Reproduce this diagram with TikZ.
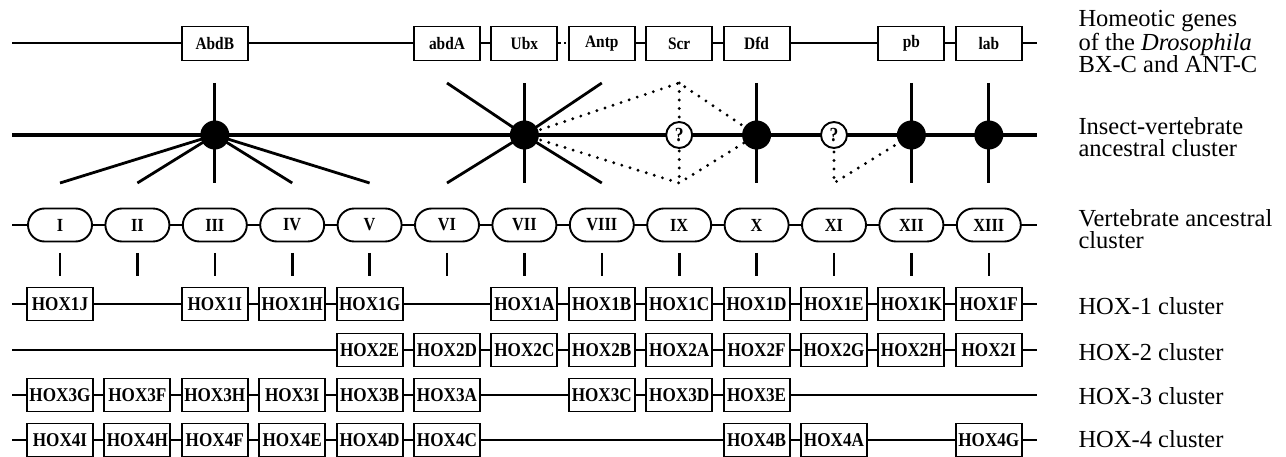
\documentclass[tikz,border=0pt]{standalone}
\usepackage{fontspec}
\setmainfont{Liberation Serif}
\newfontfamily\boxfont{Liberation Serif}[FakeStretch=0.88]
\usetikzlibrary{shapes.misc}
\begin{document}
\begin{tikzpicture}[x=1pt,y=-1pt,
  box/.style={draw, line width=1.9pt, fill=white, minimum width=66pt, minimum height=34pt, inner sep=0pt},
  gene/.style={box, font=\boxfont\bfseries\fontsize{17.5}{17.5}\selectfont},
  hox/.style={box, minimum height=33pt, font=\boxfont\bfseries\fontsize{19.5}{19.5}\selectfont},
  anc/.style={draw, rounded rectangle, line width=1.9pt, fill=white, minimum width=64pt, minimum height=33pt, inner sep=0pt, font=\boxfont\bfseries\fontsize{18.5}{18.5}\selectfont},
  hub/.style={circle, fill=black, minimum size=29pt, inner sep=0pt},
  qm/.style={circle, draw, line width=1.9pt, fill=white, minimum size=26pt, inner sep=0pt, font=\boxfont\bfseries\fontsize{20}{20}\selectfont},
  track/.style={line width=2pt},
  axis/.style={line width=3.8pt},
  ray/.style={line width=2.8pt},
  dots/.style={line width=3.2pt, line cap=round, dash pattern=on 0pt off 8.5pt},
  gap/.style={line width=2pt, dash pattern=on 2.5pt off 3pt},
  tick/.style={line width=2.6pt},
  caption/.style={anchor=base west, align=left, font=\fontsize{24.5}{22.5}\selectfont}
]
\useasboundingbox (0,0) rectangle (1286,457);

% ---------------- Drosophila homeotic genes ----------------
\coordinate (g0) at (12,43.5);
\coordinate (g9) at (1037,43.5);
\node[gene] (AbdB) at (214.8,43.5) {AbdB};
\node[gene] (abdA) at (447,43.5)   {abdA};
\node[gene] (Ubx)  at (524.4,43.5) {Ubx};
\node[gene] (Antp) at (601.8,43.5) {Antp};
\node[gene] (Scr)  at (679.2,43.5) {Scr};
\node[gene] (Dfd)  at (756.6,43.5) {Dfd};
\node[gene] (pb)   at (911.4,43.5) {pb};
\node[gene] (lab)  at (988.8,43.5) {lab};
\draw[track] (g0) -- (AbdB) -- (abdA) -- (Ubx);
\draw[gap] (Ubx) -- (Antp);
\draw[track] (Antp) -- (Scr) -- (Dfd) -- (pb) -- (lab) -- (g9);

% ---------------- insect-vertebrate ancestral cluster ----------------
\coordinate (a0) at (12,135);
\coordinate (a9) at (1037,135);
\foreach \n/\x in {1/60,2/137.4,3/214.8,4/292.2,5/369.6,6/447,7/524.4,8/601.8,9/679.2,10/756.6,11/834,12/911.4,13/988.8}{
  \coordinate (t\n) at (\x,83);
  \coordinate (b\n) at (\x,183);
  \coordinate (m\n) at (\x,135);
}
\draw[axis] (a0) -- (a9);

% AbdB fans out to groups I-V
\draw[ray] (t3) -- (m3);
\foreach \n in {1,...,5}{ \draw[ray] (m3) -- (b\n); }
% Ubx star
\foreach \n in {6,7,8}{ \draw[ray] (m7) -- (t\n); \draw[ray] (m7) -- (b\n); }
% single correspondences
\foreach \n in {10,12,13}{ \draw[ray] (t\n) -- (b\n); }

% uncertain links
\draw[dots] (m7) -- (t9) -- (m10);
\draw[dots] (m7) -- (b9) -- (m10);
\draw[dots] (t9) -- (b9);
\draw[dots] (m11) -- (b11) -- (m12);

\node[hub] (h3)  at (m3)  {};
\node[hub] (h7)  at (m7)  {};
\node[hub] (h10) at (m10) {};
\node[hub] (h12) at (m12) {};
\node[hub] (h13) at (m13) {};
\node[qm]  (q9)  at (m9)  {?};
\node[qm]  (q11) at (m11) {?};

% ---------------- vertebrate ancestral cluster ----------------
\coordinate (v0) at (12,225);
\coordinate (v9) at (1037,225);
\draw[track] (v0) -- (v9);
\foreach \n/\x/\r in {1/60/I,2/137.4/II,3/214.8/III,4/292.2/IV,5/369.6/V,6/447/VI,7/524.4/VII,8/601.8/VIII,9/679.2/IX,10/756.6/X,11/834/XI,12/911.4/XII,13/988.8/XIII}{
  \node[anc] (g\r) at (\x,225) {\r};
  \coordinate (ku\n) at (\x,253);
  \coordinate (kd\n) at (\x,276);
  \draw[tick] (ku\n) -- (kd\n);
}

% ---------------- HOX-1 ----------------
\coordinate (p0) at (12,304);
\coordinate (p9) at (1037,304);
\node[hox] (HOX1J) at (60,304)    {HOX1J};
\node[hox] (HOX1I) at (214.8,304) {HOX1I};
\node[hox] (HOX1H) at (292.2,304) {HOX1H};
\node[hox] (HOX1G) at (369.6,304) {HOX1G};
\node[hox] (HOX1A) at (524.4,304) {HOX1A};
\node[hox] (HOX1B) at (601.8,304) {HOX1B};
\node[hox] (HOX1C) at (679.2,304) {HOX1C};
\node[hox] (HOX1D) at (756.6,304) {HOX1D};
\node[hox] (HOX1E) at (834,304)   {HOX1E};
\node[hox] (HOX1K) at (911.4,304) {HOX1K};
\node[hox] (HOX1F) at (988.8,304) {HOX1F};
\draw[track] (p0) -- (HOX1J) -- (HOX1I) -- (HOX1H) -- (HOX1G) -- (HOX1A) -- (HOX1B)
  -- (HOX1C) -- (HOX1D) -- (HOX1E) -- (HOX1K) -- (HOX1F) -- (p9);

% ---------------- HOX-2 ----------------
\coordinate (q0) at (12,350);
\coordinate (q9) at (1037,350);
\node[hox] (HOX2E) at (369.6,350) {HOX2E};
\node[hox] (HOX2D) at (447,350)   {HOX2D};
\node[hox] (HOX2C) at (524.4,350) {HOX2C};
\node[hox] (HOX2B) at (601.8,350) {HOX2B};
\node[hox] (HOX2A) at (679.2,350) {HOX2A};
\node[hox] (HOX2F) at (756.6,350) {HOX2F};
\node[hox] (HOX2G) at (834,350)   {HOX2G};
\node[hox] (HOX2H) at (911.4,350) {HOX2H};
\node[hox] (HOX2I) at (988.8,350) {HOX2I};
\draw[track] (q0) -- (HOX2E) -- (HOX2D) -- (HOX2C) -- (HOX2B) -- (HOX2A) -- (HOX2F)
  -- (HOX2G) -- (HOX2H) -- (HOX2I) -- (q9);

% ---------------- HOX-3 ----------------
\coordinate (r0) at (12,395);
\coordinate (r9) at (1037,395);
\node[hox] (HOX3G) at (60,395)    {HOX3G};
\node[hox] (HOX3F) at (137.4,395) {HOX3F};
\node[hox] (HOX3H) at (214.8,395) {HOX3H};
\node[hox] (HOX3I) at (292.2,395) {HOX3I};
\node[hox] (HOX3B) at (369.6,395) {HOX3B};
\node[hox] (HOX3A) at (447,395)   {HOX3A};
\node[hox] (HOX3C) at (601.8,395) {HOX3C};
\node[hox] (HOX3D) at (679.2,395) {HOX3D};
\node[hox] (HOX3E) at (756.6,395) {HOX3E};
\draw[track] (r0) -- (HOX3G) -- (HOX3F) -- (HOX3H) -- (HOX3I) -- (HOX3B) -- (HOX3A)
  -- (HOX3C) -- (HOX3D) -- (HOX3E) -- (r9);

% ---------------- HOX-4 ----------------
\coordinate (s0) at (12,440);
\coordinate (s9) at (1037,440);
\node[hox] (HOX4I) at (60,440)    {HOX4I};
\node[hox] (HOX4H) at (137.4,440) {HOX4H};
\node[hox] (HOX4F) at (214.8,440) {HOX4F};
\node[hox] (HOX4E) at (292.2,440) {HOX4E};
\node[hox] (HOX4D) at (369.6,440) {HOX4D};
\node[hox] (HOX4C) at (447,440)   {HOX4C};
\node[hox] (HOX4B) at (756.6,440) {HOX4B};
\node[hox] (HOX4A) at (834,440)   {HOX4A};
\node[hox] (HOX4G) at (988.8,440) {HOX4G};
\draw[track] (s0) -- (HOX4I) -- (HOX4H) -- (HOX4F) -- (HOX4E) -- (HOX4D) -- (HOX4C)
  -- (HOX4B) -- (HOX4A) -- (HOX4G) -- (s9);

% ---------------- row captions (anchored on the last line's baseline) ----------------
\node[caption] (capG) at (1075,73)  {Homeotic genes\\of the \textit{Drosophila}\\BX-C and ANT-C};
\node[caption] (capA) at (1075,157) {Insect-vertebrate\\ancestral cluster};
\node[caption] (capV) at (1075,249) {Vertebrate ancestral\\cluster};
\node[caption] (cap1) at (1075,315) {HOX-1 cluster};
\node[caption] (cap2) at (1075,360) {HOX-2 cluster};
\node[caption] (cap3) at (1075,404) {HOX-3 cluster};
\node[caption] (cap4) at (1075,447) {HOX-4 cluster};
\end{tikzpicture}
\end{document}
